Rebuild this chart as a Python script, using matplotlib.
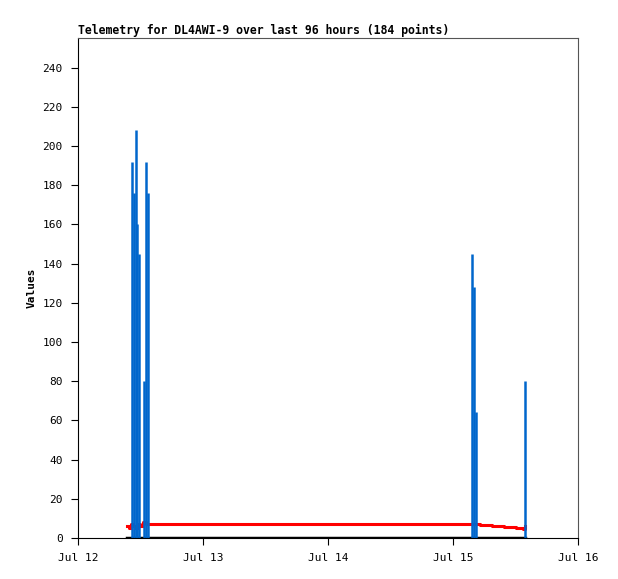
import datetime as dt
import matplotlib
matplotlib.use("Agg")
import matplotlib.pyplot as plt
import matplotlib.dates as mdates

# hours after Jul 12 00:00
bar_hours = [10.4, 10.75, 11.1, 11.45, 11.8, 12.75, 13.1, 13.45, 75.7, 76.05, 76.4, 85.9]
bar_values = [192, 176, 208, 160, 145, 80, 192, 176, 145, 128, 64, 80]

red_hours = [9.4, 9.8, 10.2, 10.6, 11.0, 11.5, 12.0, 12.5, 13.0, 75.6, 77.2, 79.5, 81.8, 84.1, 85.4, 85.8]
red_values = [6, 5, 7, 6, 5, 7, 6, 8, 7, 7, 6.5, 6, 5.5, 5, 4.5, 6]

black_hours = [9.4, 85.8]
black_values = [0, 0]

start = dt.datetime(2024, 7, 12)
def to_dates(hours):
    return [start + dt.timedelta(hours=h) for h in hours]

plt.rcParams['font.family'] = ['DejaVu Sans Mono']
fig = plt.figure(figsize=(6.18, 5.79), dpi=100)
ax = fig.add_axes([0.126, 0.071, 0.809, 0.863])

ax.plot(to_dates(black_hours), black_values, color="black", linewidth=2.5)
ax.step(to_dates(red_hours), red_values, where="post", color="red", linewidth=2.2)
ax.vlines(to_dates(bar_hours), 0, bar_values, color="#0066cc", linewidth=1.8)

ax.set_xlim(start, start + dt.timedelta(days=4))
ax.set_ylim(0, 255)
ax.set_yticks(range(0, 241, 20))
ax.xaxis.set_major_locator(mdates.DayLocator())
ax.xaxis.set_major_formatter(mdates.DateFormatter("%b %d"))
ax.tick_params(labelsize=8, direction="out", length=5, pad=6)

for side in ["top", "right"]:
    ax.spines[side].set_color("#555555")
ax.spines["left"].set_color("black")
ax.spines["bottom"].set_color("black")

ax.set_ylabel("Values", fontsize=8, fontweight="bold")
ax.set_title("Telemetry for DL4AWI-9 over last 96 hours (184 points)",
             fontsize=8.3, fontweight="bold", loc="left", pad=3)

fig.savefig("out.png", dpi=100)
